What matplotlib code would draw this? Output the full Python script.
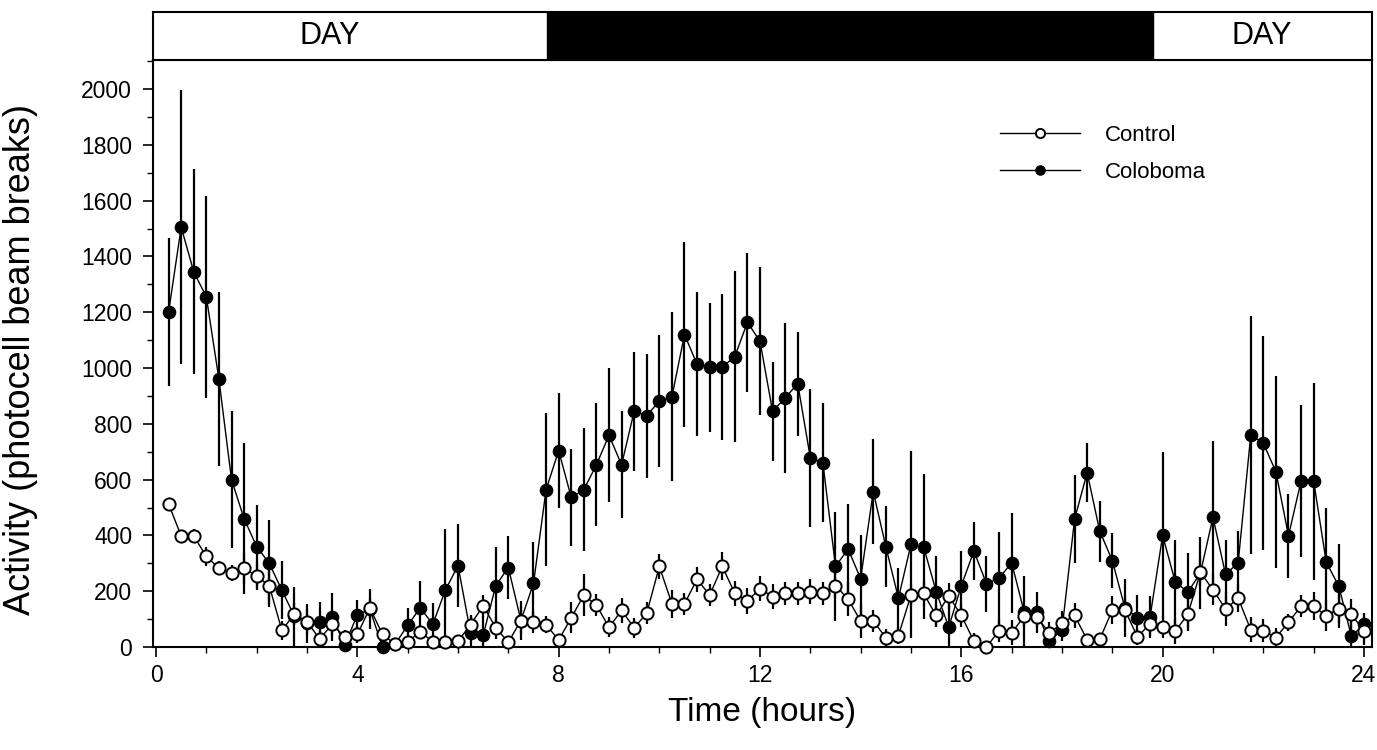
import numpy as np
import matplotlib
matplotlib.use('Agg')
import matplotlib.pyplot as plt
from matplotlib.ticker import MultipleLocator

plt.rcParams['font.family'] = ['Liberation Sans', 'DejaVu Sans']

# time points, every 15 min
hours = np.arange(0.25, 24.01, 0.25)

coloboma = [1200, 1505, 1345, 1255,
            960, 600, 460, 360,
            300, 204, 110, 85,
            90, 108, 7, 116,
            135, 0, 10, 78,
            140, 82, 204, 292,
            50, 42, 220, 285,
            95, 228, 564, 704,
            536, 564, 653, 759,
            653, 845, 829, 882,
            897, 1120, 1013, 1003,
            1003, 1041, 1164, 1096,
            845, 893, 944, 678,
            660, 289, 351, 245,
            557, 360, 175, 368,
            360, 199, 71, 220,
            344, 227, 247, 302,
            124, 124, 21, 62,
            458, 625, 415, 310,
            140, 105, 108, 400,
            233, 197, 265, 465,
            260, 302, 759, 731,
            628, 399, 595, 595,
            304, 218, 38, 82]

coloboma_err = [265, 490, 367, 362,
                312, 245, 270, 150,
                155, 105, 105, 70,
                72, 85, 25, 53,
                72, 15, 15, 63,
                96, 77, 220, 150,
                60, 70, 140, 112,
                50, 150, 275, 205,
                175, 220, 220, 240,
                192, 213, 222, 238,
                302, 330, 258, 231,
                262, 306, 249, 265,
                177, 268, 186, 247,
                213, 195, 160, 158,
                189, 144, 107, 336,
                259, 127, 130, 124,
                103, 100, 165, 179,
                130, 75, 25, 40,
                158, 105, 110, 100,
                105, 80, 75, 300,
                151, 141, 128, 272,
                124, 113, 426, 385,
                344, 151, 274, 353,
                193, 151, 50, 40]

control = [513, 398, 398, 325,
           282, 265, 282, 254,
           220, 60, 118, 91,
           29, 81, 37, 45,
           140, 45, 10, 19,
           55, 19, 19, 21,
           80, 148, 69, 17,
           95, 90, 80, 25,
           105, 186, 150, 71,
           131, 69, 121, 289,
           155, 155, 243, 186,
           289, 192, 165, 209,
           181, 192, 192, 199,
           192, 220, 172, 93,
           93, 34, 41, 186,
           192, 113, 183, 113,
           21, 0, 59, 51,
           110, 107, 51, 85,
           113, 26, 27, 133,
           133, 36, 84, 73,
           57, 117, 268, 205,
           136, 175, 62, 59,
           34, 89, 146, 146,
           112, 137, 117, 58]

control_err = [20, 20, 25, 35,
               25, 30, 55, 50,
               65, 35, 40, 45,
               30, 40, 25, 30,
               35, 20, 10, 15,
               25, 15, 15, 15,
               35, 40, 40, 15,
               70, 40, 30, 20,
               55, 75, 40, 35,
               45, 35, 40, 45,
               50, 40, 45, 40,
               50, 45, 45, 45,
               45, 40, 40, 45,
               40, 45, 60, 60,
               40, 30, 30, 40,
               45, 40, 45, 40,
               30, 15, 40, 45,
               40, 40, 40, 45,
               45, 20, 20, 50,
               50, 30, 40, 40,
               45, 50, 50, 55,
               60, 50, 45, 40,
               35, 30, 40, 50,
               55, 50, 55, 50]

dark_start = 7.77
dark_end = 19.81

fig = plt.figure(figsize=(13.77, 7.5), dpi=100)
ax = fig.add_axes([0.1111, 0.1373, 0.8853, 0.7827])
bar = fig.add_axes([0.1111, 0.92, 0.8853, 0.064])

xmin, xmax = -0.06, 24.16

ax.errorbar(hours, coloboma, yerr=coloboma_err, fmt='none', ecolor='black',
            elinewidth=1.6, capsize=0, zorder=2)
ax.plot(hours, coloboma, '-o', color='black', lw=1.0, markersize=8.8,
        markerfacecolor='black', markeredgecolor='black', label='Coloboma',
        zorder=3, clip_on=False)
ax.errorbar(hours, control, yerr=control_err, fmt='none', ecolor='black',
            elinewidth=1.6, capsize=0, zorder=4)
ax.plot(hours, control, '-o', color='black', lw=1.0, markersize=8.8,
        markerfacecolor='white', markeredgecolor='black', markeredgewidth=1.4,
        label='Control', zorder=5, clip_on=False)

ax.set_xlim(xmin, xmax)
ax.set_ylim(0, 2104)
ax.xaxis.set_major_locator(MultipleLocator(4))
ax.xaxis.set_minor_locator(MultipleLocator(1))
ax.yaxis.set_major_locator(MultipleLocator(200))
ax.yaxis.set_minor_locator(MultipleLocator(100))
ax.tick_params(which='major', direction='out', length=7, width=1.2,
               labelsize=16.5, pad=5)
ax.tick_params(axis='y', which='major', pad=8)
ax.tick_params(which='minor', direction='out', length=4, width=1.0)
ax.set_xticks([0, 4, 8, 12, 16, 20, 24])
ax.set_xticklabels(['0', '4', '8', '12', '16', '20', '24'])
for s in ax.spines.values():
    s.set_linewidth(1.5)

ax.set_xlabel('Time (hours)', fontsize=24)
ax.xaxis.set_label_coords(0.5, -0.085)
ax.set_ylabel('Activity (photocell beam breaks)', fontsize=26)
ax.yaxis.set_label_coords(-0.094, 0.49)

handles, labels = ax.get_legend_handles_labels()
ax.legend(handles[::-1], labels[::-1], loc='upper left',
          bbox_to_anchor=(0.695, 0.89), frameon=False, fontsize=16,
          borderpad=0, borderaxespad=0,
          handlelength=3.6, handletextpad=1.1, labelspacing=0.75, markerscale=0.75)

# day / night banner
bar.set_xlim(xmin, xmax)
bar.set_ylim(0, 1)
bar.axvspan(dark_start, dark_end, color='black')
bar.text(3.46, 0.5, 'DAY', ha='center', va='center', fontsize=22)
bar.text(21.97, 0.5, 'DAY', ha='center', va='center', fontsize=22)
bar.set_xticks([])
bar.set_yticks([])
for s in bar.spines.values():
    s.set_linewidth(1.5)

fig.savefig('out.png', dpi=100)
